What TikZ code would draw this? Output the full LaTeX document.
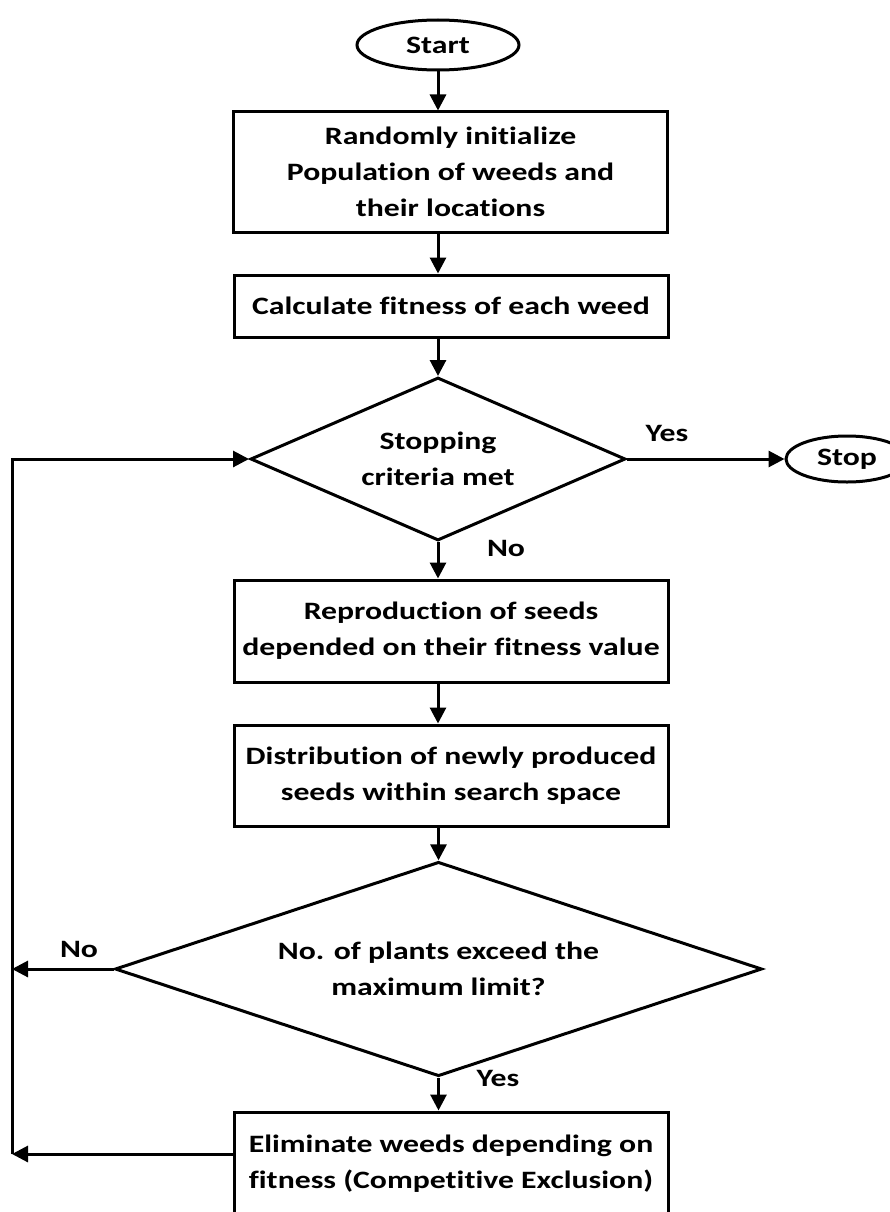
\documentclass[tikz,border=0pt]{standalone}
\usepackage{fontspec}
\setmainfont[FakeStretch = 1.27, Ligatures = NoCommon]{Carlito}
\usetikzlibrary{shapes.geometric, arrows.meta}

\begin{document}
\begin{tikzpicture}[x = 1pt, y = -1pt, line width = 3pt,
    font = \fontsize{25}{36}\selectfont\bfseries,
    stepbox/.style = {shape = rectangle, draw, minimum width = 434pt, align = center, inner sep = 0pt},
    term/.style = {shape = ellipse, draw, inner sep = 0pt},
    test/.style = {shape = diamond, draw, align = center, inner sep = 0pt, aspect = 2},
    flow/.style = {-{Triangle[length = 16pt, width = 16pt]}}]
    \useasboundingbox (0,0) rectangle (889,1212);
    \node[term, minimum width = 162pt, minimum height = 50pt] (Start) at (438,45) {Start};
    \node[stepbox, minimum height = 120pt] (Init) at (450.5,172) {Randomly initialize\\Population of weeds and\\their locations};
    \node[stepbox, minimum height = 62pt] (Fit) at (451,306) {Calculate fitness of each weed};
    \node[test, minimum width = 375pt, minimum height = 163pt] (Crit) at (438,459) {Stopping\\criteria met};
    \node[term, minimum width = 122pt, minimum height = 46pt] (Stop) at (847,459) {Stop};
    \node[stepbox, minimum height = 102pt] (Rep) at (451,631) {Reproduction of seeds\\depended on their fitness value};
    \node[stepbox, minimum height = 101pt] (Dist) at (451,775.5) {Distribution of newly produced\\seeds within search space};
    \node[test, minimum width = 647pt, minimum height = 163pt] (Lim) at (438.5,969) {No. of plants exceed the\\maximum limit?};
    \node[stepbox, minimum height = 103pt] (Elim) at (451,1163.5) {Eliminate weeds depending on\\fitness (Competitive Exclusion)};
    % labels on the branches
    \node (Y1) at (667,433) {Yes};
    \node (N1) at (506,548) {No};
    \node (N2) at (79,949) {No};
    \node (Y2) at (498,1078) {Yes};
    % return path on the left
    \coordinate (LoopB) at (12,1154);
    \coordinate (LoopT) at (12,459);
    \draw[flow] (Start) -- (Init.north -| Start);
    \draw[flow] (Init.south -| Start) -- (Fit.north -| Start);
    \draw[flow] (Fit.south -| Crit) -- (Crit.north);
    \draw[flow] (Crit.east) -- (Stop.west);
    \draw[flow] (Crit.south) -- (Rep.north -| Crit);
    \draw[flow] (Rep.south -| Crit) -- (Dist.north -| Crit);
    \draw[flow] (Dist.south -| Lim) -- (Lim.north);
    \draw[flow] (Lim.south) -- (Elim.north -| Lim);
    \draw[flow] (Lim.west) -- (Lim.west -| LoopB);
    \draw[flow] (Elim.west |- LoopB) -- (LoopB);
    \draw[flow] (LoopB) -- (LoopT) -- (Crit.west);
\end{tikzpicture}
\end{document}
